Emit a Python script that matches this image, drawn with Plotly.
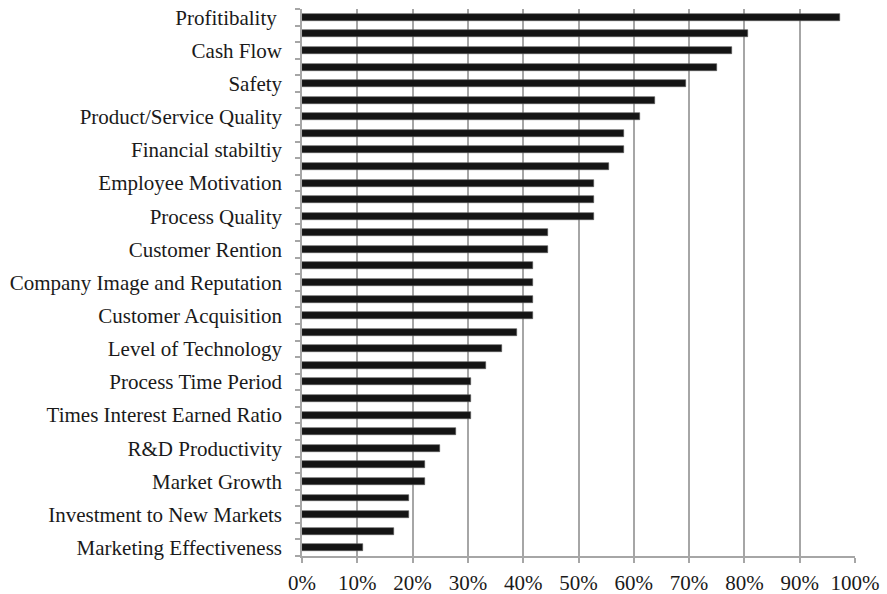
import plotly.graph_objects as go

labels = ["Profitibality\u00a0", "Cash Flow", "Safety", "Product/Service Quality",
          "Financial stabiltiy", "Employee Motivation", "Process Quality",
          "Customer Rention", "Company Image and Reputation", "Customer Acquisition",
          "Level of Technology", "Process Time Period", "Times Interest Earned Ratio",
          "R&D Productivity", "Market Growth", "Investment to New Markets",
          "Marketing Effectiveness"]

values = [0.972, 0.806, 0.778, 0.750, 0.694, 0.639, 0.611, 0.583, 0.583, 0.556,
          0.528, 0.528, 0.528, 0.444, 0.444, 0.417, 0.417, 0.417, 0.417, 0.389,
          0.361, 0.333, 0.306, 0.306, 0.306, 0.278, 0.250, 0.222, 0.222, 0.194,
          0.194, 0.167, 0.111]

positions = list(range(len(values)))
label_positions = positions[::2]

fig = go.Figure(go.Bar(
    x=values, y=positions, orientation="h", width=0.42,
    marker=dict(color="#141414", line=dict(color="#555555", width=0.6)),
    hoverinfo="skip"))

font = dict(family="Liberation Serif", size=21, color="#1a1a1a")

fig.update_layout(
    width=887, height=594,
    margin=dict(l=302, r=32, t=9, b=38),
    plot_bgcolor="white", paper_bgcolor="white",
    showlegend=False, font=font, bargap=0,
)
fig.update_xaxes(
    range=[0, 1], dtick=0.1, tick0=0, tickformat=".0%",
    showgrid=True, gridcolor="#a6a6a6", gridwidth=1.5,
    showline=True, linecolor="#a6a6a6", linewidth=1.5,
    ticks="outside", ticklen=5, tickcolor="#a6a6a6", tickwidth=1.5,
    zeroline=False, tickfont=font, ticklabelstandoff=2, automargin=False,
)
fig.update_yaxes(
    range=[len(values) - 0.5, -0.5],
    tickmode="array", tickvals=label_positions, ticktext=labels,
    ticks="", showgrid=False, zeroline=False,
    showline=True, linecolor="#a6a6a6", linewidth=1.5,
    minor=dict(tick0=0.5, dtick=1, ticks="outside", ticklen=5,
               tickcolor="#a6a6a6", tickwidth=1.5, showgrid=False),
    ticklabelstandoff=14, tickfont=font, automargin=False,
)

fig.write_html("out.html")
